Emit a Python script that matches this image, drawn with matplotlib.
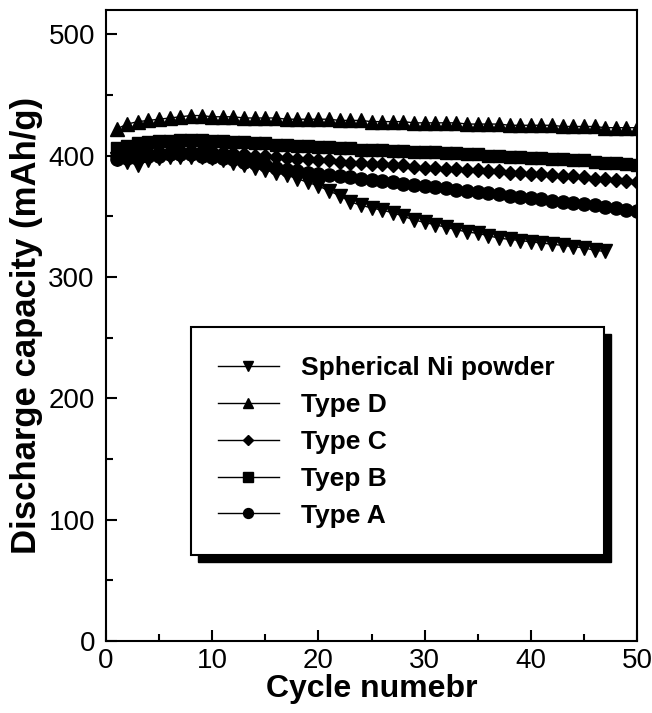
import matplotlib
matplotlib.use("Agg")
import matplotlib.pyplot as plt
from matplotlib.patches import Rectangle
from matplotlib.ticker import MultipleLocator

plt.rcParams['font.family'] = ['Liberation Sans', 'DejaVu Sans']

cycles = list(range(1, 51))
cycles_ni = list(range(1, 48))

type_d = [422, 426, 428, 429, 430, 431, 432, 433, 433, 432, 432, 432, 431, 431, 431, 431, 430, 430, 430, 430,
          430, 429, 429, 429, 428, 428, 428, 428, 427, 427, 427, 427, 427, 426, 426, 426, 426, 425, 425, 425,
          425, 425, 424, 424, 424, 424, 423, 423, 423, 423]
type_b = [406, 408, 410, 411, 412, 412, 413, 413, 413, 412, 412, 411, 411, 410, 410, 409, 409, 408, 408, 407,
          407, 406, 406, 405, 405, 405, 404, 404, 403, 403, 403, 402, 402, 401, 401, 400, 400, 399, 399, 398,
          398, 397, 397, 396, 396, 395, 394, 394, 393, 392]
type_c = [400, 401, 402, 403, 404, 404, 405, 405, 405, 404, 403, 402, 401, 400, 400, 399, 398, 397, 397, 396,
          396, 395, 394, 394, 393, 393, 392, 392, 391, 390, 390, 389, 389, 388, 388, 387, 387, 386, 386, 385,
          385, 384, 383, 383, 382, 381, 381, 380, 379, 378]
type_a = [397, 398, 399, 400, 400, 401, 401, 401, 400, 399, 398, 397, 395, 394, 392, 390, 388, 387, 386, 385,
          384, 383, 382, 381, 380, 379, 378, 377, 376, 375, 374, 373, 372, 371, 370, 369, 368, 367, 366, 365,
          364, 363, 362, 361, 360, 359, 358, 357, 355, 354]
spherical_ni = [397, 395, 392, 396, 398, 399, 399, 399, 399, 398, 396, 394, 392, 390, 388, 386, 384, 381, 378, 375,
                371, 367, 362, 359, 357, 355, 353, 350, 347, 345, 343, 341, 339, 337, 336, 334, 332, 331, 330, 329,
                328, 327, 326, 325, 324, 322, 321]

labels = ["Spherical Ni powder", "Type D", "Type C", "Tyep B", "Type A"]

fig = plt.figure(figsize=(6.52, 7.13), dpi=100)
ax = fig.add_axes([106/652, 1-641/713, 531/652, 631/713])

ms = 10
h_ni, = ax.plot(cycles_ni, spherical_ni, '-', color='k', lw=1, marker='v', ms=ms, mfc='k', mec='k')
h_d, = ax.plot(cycles, type_d, '-', color='k', lw=1, marker='^', ms=ms, mfc='k', mec='k')
h_c, = ax.plot(cycles, type_c, '-', color='k', lw=1, marker='D', ms=ms*0.72, mfc='k', mec='k')
h_b, = ax.plot(cycles, type_b, '-', color='k', lw=1, marker='s', ms=ms*0.9, mfc='k', mec='k')
h_a, = ax.plot(cycles, type_a, '-', color='k', lw=1, marker='o', ms=ms*0.95, mfc='k', mec='k')

ax.set_xlim(0, 50)
ax.set_ylim(0, 520)
ax.xaxis.set_major_locator(MultipleLocator(10))
ax.xaxis.set_minor_locator(MultipleLocator(5))
ax.yaxis.set_major_locator(MultipleLocator(100))
ax.yaxis.set_minor_locator(MultipleLocator(50))
ax.tick_params(which='both', direction='in', top=False, right=False, labelsize=20, width=1.5)
ax.tick_params(which='major', length=8, pad=8)
ax.tick_params(axis='x', which='major', pad=5)
ax.tick_params(which='minor', length=5)
for s in ax.spines.values():
    s.set_linewidth(1.5)

ax.set_xlabel("Cycle numebr", fontsize=23, fontweight='bold', labelpad=0)
ax.set_ylabel("Discharge capacity (mAh/g)", fontsize=25, fontweight='bold', labelpad=4)

# legend frame with solid black shadow
bx0, bx1 = (191-106)/531, (604-106)/531
by0, by1 = (641-555)/631, (641-327)/631
dx, dy = 7/531, 7/631
ax.add_patch(Rectangle((bx0+dx, by0-dy), bx1-bx0, by1-by0, transform=ax.transAxes,
                       facecolor='k', edgecolor='k', zorder=6))
ax.add_patch(Rectangle((bx0, by0), bx1-bx0, by1-by0, transform=ax.transAxes,
                       facecolor='white', edgecolor='k', lw=1.5, zorder=6.5))

leg = ax.legend([h_ni, h_d, h_c, h_b, h_a], labels, loc='upper left',
                bbox_to_anchor=((218-106)/531, (641-356)/631), frameon=False,
                borderpad=0, borderaxespad=0, handlelength=2.3, handletextpad=0.85,
                labelspacing=0.49, markerscale=0.75,
                prop={'weight': 'bold', 'size': 19})
leg.set_zorder(7)

fig.savefig("out.png", dpi=100)
